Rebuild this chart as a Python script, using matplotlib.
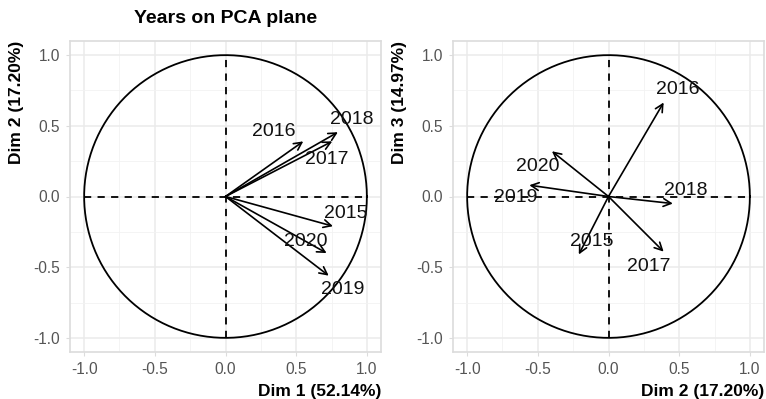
import numpy as np
import matplotlib
matplotlib.use("Agg")
import matplotlib.pyplot as plt

plt.rcParams['font.family'] = ['Liberation Sans', 'DejaVu Sans']

# Variable coordinates (correlations) on the first three principal dimensions
years = ['2015', '2016', '2017', '2018', '2019', '2020']
dim1 = [0.76, 0.55, 0.755, 0.795, 0.73, 0.715]
dim2 = [-0.21, 0.39, 0.39, 0.455, -0.56, -0.40]
dim3 = [-0.41, 0.665, -0.39, -0.05, 0.08, 0.32]

dim1_label = 'Dim 1 (52.14%)'
dim2_label = 'Dim 2 (17.20%)'
dim3_label = 'Dim 3 (14.97%)'
title = 'Years on PCA plane'
tick_values = [-1.0, -0.5, 0.0, 0.5, 1.0]

# Label offsets (data units) relative to each arrow tip, as placed by a repel layout
offsets_12 = {'2015': (0.09, 0.09), '2016': (-0.21, 0.07), '2017': (-0.04, -0.13),
              '2018': (0.10, 0.09), '2019': (0.10, -0.10), '2020': (-0.15, 0.085)}
offsets_23 = {'2015': (0.09, 0.09), '2016': (0.10, 0.095), '2017': (-0.105, -0.105),
              '2018': (0.09, 0.09), '2019': (-0.095, -0.09), '2020': (-0.10, -0.11)}

W, H = 766, 399
fig = plt.figure(figsize=(W / 100, H / 100), dpi=100)

panel_w, panel_h = 311, 311
bottom = 47
ax1 = fig.add_axes([70 / W, bottom / H, panel_w / W, panel_h / H])
ax2 = fig.add_axes([453 / W, bottom / H, panel_w / W, panel_h / H])


def style_axis(ax, xlabel, ylabel):
    ax.set_xlim(-1.1, 1.1)
    ax.set_ylim(-1.1, 1.1)
    ax.set_xticks(tick_values)
    ax.set_yticks(tick_values)
    ax.set_xticks([-0.75, -0.25, 0.25, 0.75], minor=True)
    ax.set_yticks([-0.75, -0.25, 0.25, 0.75], minor=True)
    ax.set_xticklabels([f'{v:.1f}' for v in tick_values])
    ax.set_yticklabels([f'{v:.1f}' for v in tick_values])
    ax.grid(which='major', color='#EBEBEB', lw=1.1, zorder=0)
    ax.grid(which='minor', color='#F2F2F2', lw=0.6, zorder=0)
    ax.set_axisbelow(True)
    for s in ax.spines.values():
        s.set_color('#DCDCDC')
        s.set_linewidth(1.2)
    ax.tick_params(which='major', length=3, width=0.8, color='#DCDCDC',
                   labelcolor='#555555', labelsize=11.2, pad=4)
    ax.tick_params(which='minor', length=0)
    ax.set_xlabel(xlabel, fontsize=12.5, fontweight='bold', loc='right', labelpad=5)
    ax.set_ylabel(ylabel, fontsize=12.5, fontweight='bold', loc='top', labelpad=7)


def draw_plane(ax, xs, ys, offsets):
    t = np.linspace(0, 2 * np.pi, 400)
    ax.plot(np.cos(t), np.sin(t), color='black', lw=1.3, zorder=2)
    ax.plot([-1, 1], [0, 0], color='black', lw=1.3, ls=(0, (4, 3.5)), zorder=2)
    ax.plot([0, 0], [-1, 1], color='black', lw=1.3, ls=(0, (4, 3.5)), zorder=2)
    for name, x, y in zip(years, xs, ys):
        ax.annotate('', xy=(x, y), xytext=(0, 0),
                    arrowprops=dict(arrowstyle='->,head_length=0.55,head_width=0.28',
                                    lw=1.2, color='black', shrinkA=0, shrinkB=0),
                    zorder=3)
        dx, dy = offsets[name]
        ax.text(x + dx, y + dy, name, fontsize=14, color='#111111',
                ha='center', va='center', zorder=4)


draw_plane(ax1, dim1, dim2, offsets_12)
style_axis(ax1, dim1_label, dim2_label)
draw_plane(ax2, dim2, dim3, offsets_23)
style_axis(ax2, dim2_label, dim3_label)

ax1.set_title(title, fontsize=14, fontweight='bold', pad=13)

fig.savefig('out.png', dpi=100)
